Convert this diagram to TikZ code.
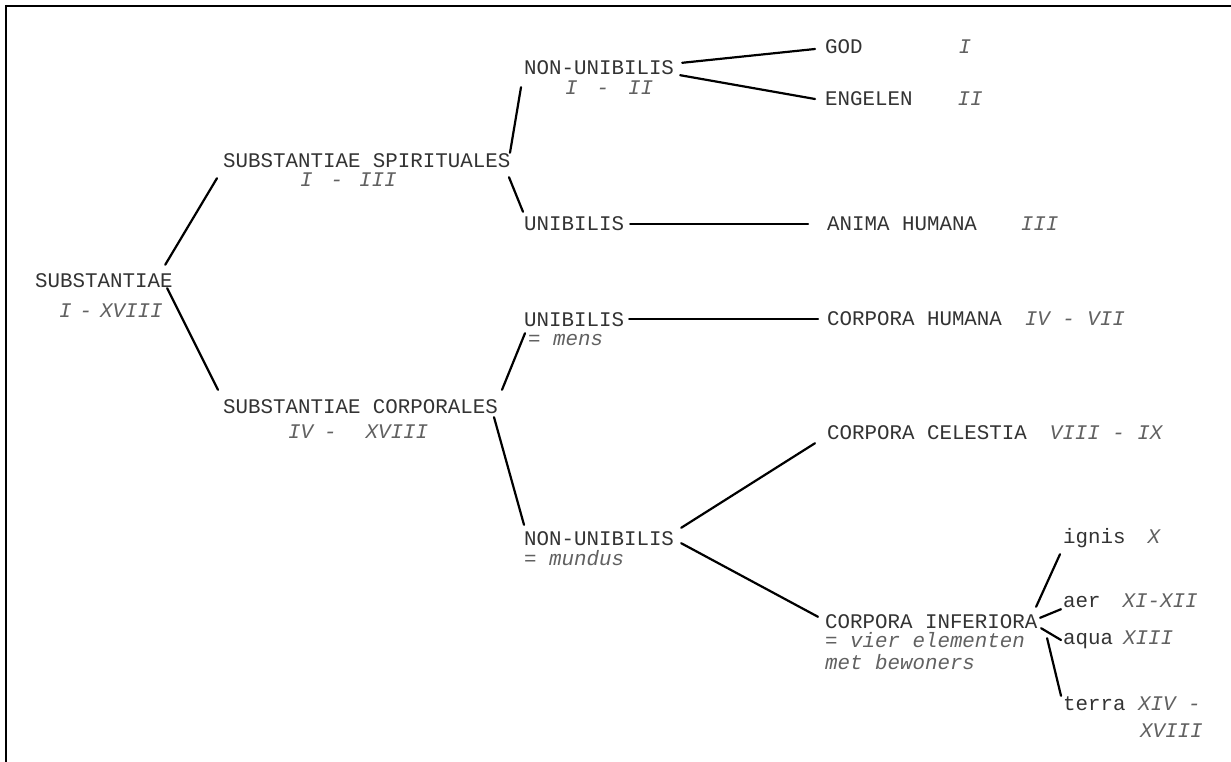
\documentclass[tikz,border=0pt]{standalone}
\usepackage{fontspec}
\newfontfamily\tw{Liberation Mono}
\newcommand\romn[1]{{\itshape\color{black!62}#1}}
\begin{document}
\begin{tikzpicture}[x=1pt,y=-1pt,
  lab/.style={font=\tw\fontsize{20.8}{24}\selectfont, text=black!80, inner sep=0pt, anchor=base west, text height=12pt, text depth=0pt},
  num/.style={lab, font=\tw\itshape\fontsize{20.8}{24}\selectfont, text=black!62},
  link/.style={draw=black, line width=2.2pt, line cap=round},
  frame/.style={draw=black, line width=2.8pt}]
\fill[white] (0,0) rectangle (1231,762);
\useasboundingbox (0,0) rectangle (1231,762);
% frame
\draw[frame] (6,6) -- (1231,6);
\draw[frame] (6,5) -- (6,762);
% nodes
\node[lab] (sub) at (35,287) {SUBSTANTIAE};
\node[num] (subn) at (59,317) {I\hspace{8pt}-\hspace{8pt}XVIII};
\node[lab] (spir) at (223,168) {SUBSTANTIAE SPIRITUALES};
\node[num] (spirn) at (300,187) {I\hspace{18pt}-\hspace{16pt}III};
\node[lab] (corp) at (223,413) {SUBSTANTIAE CORPORALES};
\node[num] (corpn) at (288,438) {IV\hspace{11pt}-\hspace{29pt}XVIII};
\node[lab] (nu1) at (524,75) {NON-UNIBILIS};
\node[num] (nu1n) at (565,95) {I\hspace{19pt}-\hspace{19pt}II};
\node[lab] (un1) at (524,230) {UNIBILIS};
\node[lab] (god) at (825,54) {GOD\hspace{96pt}\romn{I}};
\node[lab] (eng) at (825,106) {ENGELEN\hspace{45pt}\romn{II}};
\node[lab] (anima) at (827,230) {ANIMA HUMANA\hspace{44pt}\romn{III}};
\node[lab] (un2) at (524,326) {UNIBILIS};
\node[num] (un2n) at (528,345) {= mens};
\node[lab] (hum) at (827,325) {CORPORA HUMANA\hspace{23pt}\romn{IV - VII}};
\node[lab] (cel) at (827,439) {CORPORA CELESTIA\hspace{23pt}\romn{VIII - IX}};
\node[lab] (nu2) at (524,545) {NON-UNIBILIS};
\node[num] (nu2n) at (524,565) {= mundus};
\node[lab] (inf) at (825,628) {CORPORA INFERIORA};
\node[num] (inf1) at (825,647) {= vier elementen};
\node[num] (inf2) at (825,669) {met bewoners};
\node[lab] (ign) at (1063,543) {ignis\hspace{22pt}\romn{X}};
\node[lab] (aer) at (1063,607) {aer\hspace{22pt}\romn{XI-XII}};
\node[lab] (aqua) at (1063,644) {aqua\hspace{10pt}\romn{XIII}};
\node[lab] (terra) at (1063,710) {terra \romn{XIV -}};
\node[num] (terran) at (1140,737) {XVIII};
% connectors
\draw[link] ([shift={(-7.5,-10)}]sub.north east) -- ([shift={(-6,10)}]spir.south west);
\draw[link] ([shift={(-5.5,1)}]sub.south east) -- ([shift={(-5,-11)}]corp.north west);
\draw[link] ([shift={(-0.5,-3)}]spir.north east) -- ([shift={(-3,12)}]nu1.south west);
\draw[link] ([shift={(-1.5,9)}]spir.south east) -- ([shift={(-1,-6)}]un1.north west);
\draw[link] ([shift={(8,0)}]nu1.north east) -- ([shift={(-10,1)}]god.west);
\draw[link] ([shift={(6,0)}]nu1.south east) -- ([shift={(-10,-1)}]eng.west);
\draw[link] ([shift={(6,0)}]un1.east) -- ([shift={(-19,0)}]anima.west);
\draw[link] ([shift={(4,-11)}]corp.north east) -- ([shift={(1,7)}]un2.south west);
\draw[link] ([shift={(-4,4)}]corp.south east) -- ([shift={(0,-8)}]nu2.north west);
\draw[link] ([shift={(5,-1)}]un2.east) -- ([shift={(-9,0)}]hum.west);
\draw[link] ([shift={(7,-5)}]nu2.north east) -- ([shift={(-12,4)}]cel.south west);
\draw[link] ([shift={(7,-2)}]nu2.south east) -- ([shift={(-7,1)}]inf.north west);
\draw[link] ([shift={(-1.5,-9)}]inf.north east) -- ([shift={(-3,11)}]ign.south west);
\draw[link] ([shift={(2.5,2)}]inf.north east) -- ([shift={(-2,2)}]aer.south west);
\draw[link] ([shift={(3.5,0)}]inf.south east) -- ([shift={(-2,2)}]aqua.west);
\draw[link] ([shift={(9.5,10)}]inf.south east) -- ([shift={(-2,-2)}]terra.north west);
\end{tikzpicture}
\end{document}
